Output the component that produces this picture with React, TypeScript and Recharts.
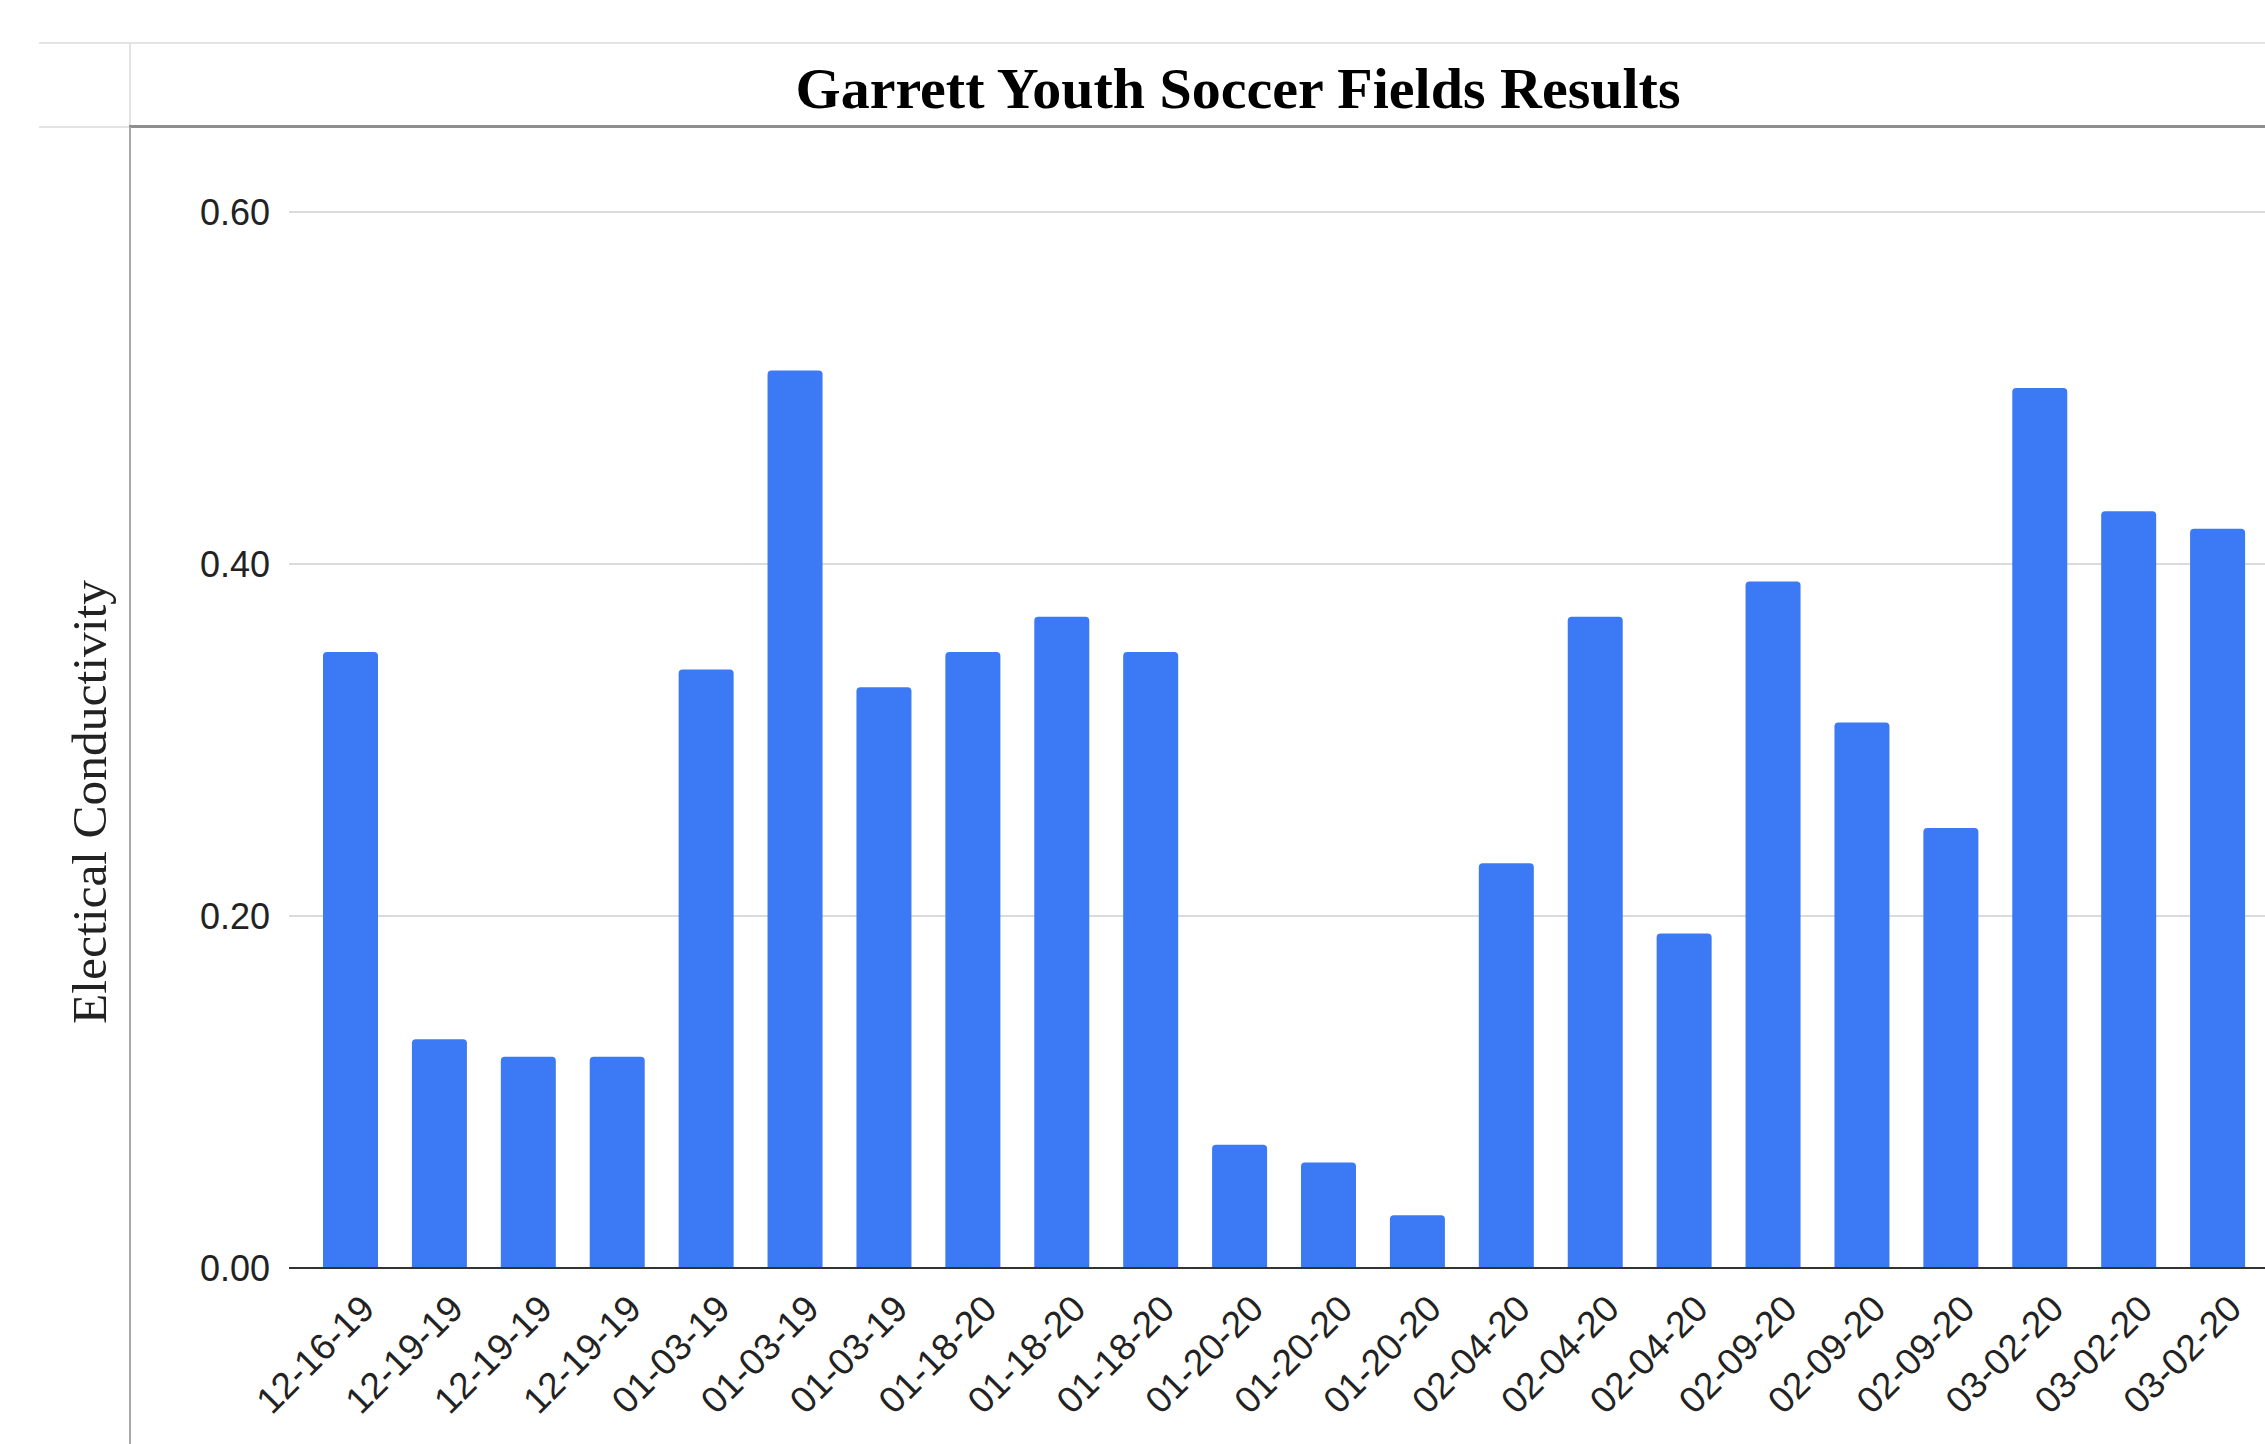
import { BarChart, Bar, XAxis, YAxis, CartesianGrid } from 'recharts';

const sampleDates = [
    '12-16-19', '12-19-19', '12-19-19', '12-19-19',
    '01-03-19', '01-03-19', '01-03-19',
    '01-18-20', '01-18-20', '01-18-20',
    '01-20-20', '01-20-20', '01-20-20',
    '02-04-20', '02-04-20', '02-04-20',
    '02-09-20', '02-09-20', '02-09-20',
    '03-02-20', '03-02-20', '03-02-20',
];
const conductivity = [
    0.35, 0.13, 0.12, 0.12,
    0.34, 0.51, 0.33,
    0.35, 0.37, 0.35,
    0.07, 0.06, 0.03,
    0.23, 0.37, 0.19,
    0.39, 0.31, 0.25,
    0.5, 0.43, 0.42,
];
const yTicks = [0, 0.2, 0.4, 0.6];

const data = sampleDates.map((date, i) => ({ date, ec: conductivity[i] }));

const SANS = '"Liberation Sans", Arial, sans-serif';
const SERIF = '"Liberation Serif", "Times New Roman", serif';

function DateTick({ x, y, payload }: any) {
    return (
        <g transform={`translate(${x + 26},${y + 43})`}>
            <text
                x={0}
                y={0}
                textAnchor="end"
                transform="rotate(-45)"
                fontFamily={SANS}
                fontSize={37}
                fill="#222"
            >
                {payload.value}
            </text>
        </g>
    );
}

export default function App() {
    return (
        <div
            style={{
                position: 'fixed',
                left: 0,
                top: 0,
                width: 2265,
                height: 1444,
                overflow: 'hidden',
                background: '#fff',
            }}
        >
            {/* sheet grid + chart frame */}
            <div style={{ position: 'absolute', left: 39, top: 42, width: 2226, height: 2, background: '#e3e3e3' }} />
            <div style={{ position: 'absolute', left: 39, top: 126, width: 92, height: 2, background: '#e3e3e3' }} />
            <div style={{ position: 'absolute', left: 129, top: 42, width: 2, height: 86, background: '#e3e3e3' }} />
            <div style={{ position: 'absolute', left: 129, top: 125, width: 2136, height: 3, background: '#8f8f8f' }} />
            <div style={{ position: 'absolute', left: 129, top: 127, width: 2, height: 1317, background: '#a8a8a8' }} />

            <div
                style={{
                    position: 'absolute',
                    left: 638,
                    top: 60,
                    width: 1200,
                    lineHeight: '58px',
                    textAlign: 'center',
                    fontFamily: SERIF,
                    fontWeight: 'bold',
                    fontSize: 58,
                    color: '#000',
                }}
            >
                Garrett Youth Soccer Fields Results
            </div>

            <div
                style={{
                    position: 'absolute',
                    left: 90 - 300,
                    top: 802 - 30,
                    width: 600,
                    height: 60,
                    lineHeight: '60px',
                    textAlign: 'center',
                    transform: 'rotate(-90deg)',
                    fontFamily: SERIF,
                    fontSize: 49.5,
                    color: '#222',
                }}
            >
                Electical Conductivity
            </div>

            <div style={{ position: 'absolute', left: 0, top: 0 }}>
                <BarChart
                    width={2300}
                    height={1444}
                    data={data}
                    margin={{ top: 212, right: 0, bottom: 0, left: 0 }}
                >
                    <CartesianGrid vertical={false} stroke="#cfcfcf" strokeWidth={1.5} />
                    <XAxis
                        dataKey="date"
                        height={176}
                        interval={0}
                        tickLine={false}
                        tickSize={0}
                        tickMargin={0}
                        padding={{ left: 17, right: 38 }}
                        axisLine={{ stroke: '#333', strokeWidth: 2 }}
                        tick={<DateTick />}
                    />
                    <YAxis
                        width={289}
                        domain={[0, 0.6]}
                        ticks={yTicks}
                        axisLine={false}
                        tickLine={false}
                        tickSize={0}
                        tickMargin={19}
                        tickFormatter={(v: number) => v.toFixed(2)}
                        tick={{ fontFamily: SANS, fontSize: 36, fill: '#222' }}
                    />
                    <Bar
                        dataKey="ec"
                        fill="#3b79f5"
                        barSize={55}
                        radius={[4, 4, 0, 0]}
                        isAnimationActive={false}
                    />
                </BarChart>
            </div>
        </div>
    );
}
